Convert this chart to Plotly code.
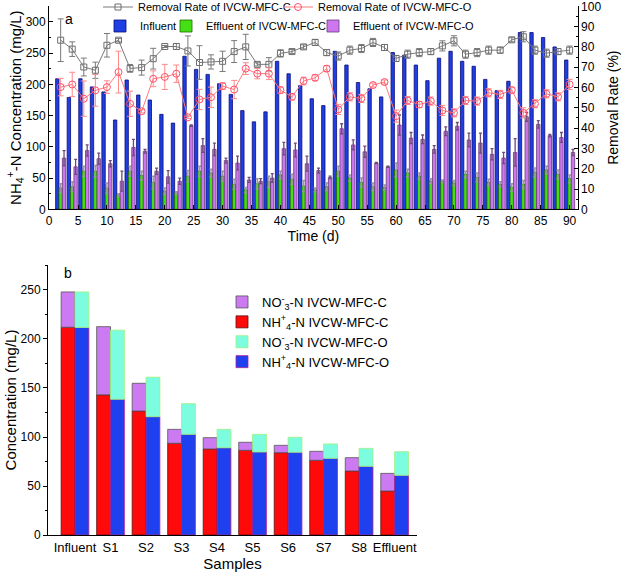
import plotly.graph_objects as go

# ---------------- Panel a data ----------------
days = [2, 4, 6, 8, 10, 12, 14, 16, 18, 20, 22, 24, 26, 28, 30, 32, 34, 36, 38, 40, 42, 44, 46,
        48, 50, 52, 54, 56, 58, 60, 62, 64, 66, 68, 70, 72, 74, 76, 78, 80, 82, 84, 86, 88, 90]
influent = [209, 179, 209, 196, 188, 143, 207, 183, 175, 152, 138, 245, 224, 216, 201, 184, 158, 140, 156,
            237, 217, 198, 177, 166, 253, 231, 203, 193, 180, 251, 247, 231, 206, 242, 253, 237, 229, 208,
            190, 205, 283, 283, 275, 260, 239]
eff_c = [34, 36, 61, 61, 34, 23, 61, 54, 43, 29, 26, 53, 61, 58, 53, 40, 31, 41, 44, 55, 48, 37, 31,
         36, 61, 50, 43, 36, 35, 63, 58, 53, 45, 45, 42, 56, 51, 43, 40, 35, 40, 59, 63, 56, 49]
eff_c_err = [7, 8, 8, 9, 8, 2, 8, 7, 10, 5, 2, 9, 8, 6, 8, 8, 4, 8, 9, 6, 8, 9, 3,
             6, 8, 5, 7, 6, 4, 11, 6, 5, 4, 2, 4, 5, 7, 5, 4, 6, 6, 7, 6, 7, 6]
eff_o = [82, 68, 94, 81, 73, 45, 99, 93, 61, 52, 45, 134, 102, 96, 78, 74, 47, 45, 50, 97, 95, 73, 62,
         51, 129, 103, 92, 74, 68, 135, 114, 112, 96, 125, 133, 111, 106, 88, 82, 91, 148, 136, 118, 115, 91]
eff_o_err = [12, 12, 9, 9, 5, 16, 13, 3, 5, 10, 5, 1, 11, 10, 4, 11, 4, 4, 7, 10, 11, 12, 4,
             2, 8, 8, 9, 1, 1, 16, 9, 7, 6, 7, 6, 11, 16, 9, 9, 22, 7, 6, 2, 8, 5]
rr_c = [83.3, 78.9, 70.1, 68.5, 80.8, 83.3, 69.4, 69.8, 74.2, 80.2, 80.2, 78.0, 72.3, 72.6, 72.9, 77.7,
        80.0, 71.4, 71.4, 76.8, 77.7, 80.0, 82.2, 77.2, 75.5, 78.4, 79.2, 82.2, 79.7, 74.3, 76.4, 77.2,
        77.7, 80.5, 83.0, 76.4, 77.2, 78.4, 78.4, 83.5, 85.0, 78.4, 76.9, 77.7, 78.4]
rr_c_err = [10.5, 3.6, 4.4, 4.0, 5.8, 0.8, 1.9, 3.7, 5.1, 0.5, 1.5, 7.4, 8.3, 3.5, 5.0, 5.4, 6.2, 0.8,
            3.3, 1.8, 1.0, 1.0, 1.5, 1.5, 2.0, 2.0, 2.0, 2.0, 1.5, 1.5, 2.0, 2.0, 1.5, 2.5, 2.5, 2.0,
            2.0, 2.0, 1.5, 1.0, 2.5, 2.0, 2.0, 1.5, 2.0]
rr_o = [60.2, 61.5, 54.5, 58.6, 60.2, 67.6, 52.0, 48.3, 64.3, 65.2, 66.8, 45.3, 54.1, 55.2, 60.7, 59.0,
        69.3, 66.8, 66.8, 58.7, 55.4, 63.2, 64.8, 69.3, 49.2, 55.4, 54.6, 61.2, 62.7, 45.9, 53.6, 51.6,
        53.3, 48.7, 47.5, 53.6, 53.3, 57.4, 56.6, 58.7, 47.5, 52.0, 56.9, 55.4, 61.5]
rr_o_err = [4.3, 6.0, 8.7, 7.8, 3.1, 10.3, 6.2, 0.8, 3.9, 6.2, 4.3, 0.6, 5.0, 5.0, 1.6, 4.5, 2.9, 2.5,
            2.9, 1.6, 1.5, 1.9, 1.5, 1.5, 2.5, 2.0, 2.0, 1.0, 1.0, 3.0, 2.0, 1.5, 2.0, 2.5, 2.0, 2.0,
            2.0, 2.0, 2.0, 1.5, 2.5, 2.0, 2.0, 2.0, 2.5]
time_ticks = [0, 5, 10, 15, 20, 25, 30, 35, 40, 45, 50, 55, 60, 65, 70, 75, 80, 85, 90]
rate_ticks = [0, 10, 20, 30, 40, 50, 60, 70, 80, 90, 100]

# ---------------- Panel b data ----------------
samples = ["Influent", "S1", "S2", "S3", "S4", "S5", "S6", "S7", "S8", "Effluent"]
nh4_c = [212.0, 143.0, 126.5, 93.6, 87.8, 86.4, 84.0, 76.2, 65.3, 44.9]
no3_c = [36.0, 69.6, 28.3, 14.2, 11.5, 8.2, 7.5, 9.2, 13.6, 18.0]
nh4_o = [211.7, 138.5, 120.7, 102.7, 89.0, 84.7, 84.4, 78.2, 70.1, 60.9]
no3_o = [36.3, 70.5, 40.3, 31.3, 18.8, 18.0, 15.3, 14.7, 18.3, 24.1]

FONT = "Liberation Sans, Arial, sans-serif"
W, H = 621, 576

def px(x):
    return x / W

def py(y):
    return 1 - y / H

fig = go.Figure()

# Panel a bars
fig.add_trace(go.Bar(x=days, y=influent, name="Influent", legend="legend3",
                     marker=dict(color="#1f3fe2", line=dict(color="#0b0b7a", width=0.8)),
                     xaxis="x", yaxis="y"))
fig.add_trace(go.Bar(x=days, y=eff_c, name="Effluent of IVCW-MFC-C", legend="legend4",
                     marker=dict(color="#45e014", line=dict(color="#1f6a00", width=0.8)),
                     error_y=dict(type="data", array=eff_c_err, symmetric=True, color="#9a9a9a",
                                  thickness=1.5, width=1.5),
                     xaxis="x", yaxis="y"))
fig.add_trace(go.Bar(x=days, y=eff_o, name="Effluent of IVCW-MFC-O", legend="legend5",
                     marker=dict(color="#cc77ee", line=dict(color="#6a3a7a", width=0.8)),
                     error_y=dict(type="data", array=eff_o_err, symmetric=True, color="#6e4a78",
                                  thickness=1.3, width=1.5),
                     xaxis="x", yaxis="y"))

# Panel a removal-rate lines
fig.add_trace(go.Scatter(x=days, y=rr_c, name="Removal Rate of IVCW-MFC-C", legend="legend",
                         mode="lines+markers",
                         line=dict(color="#7a7a7a", width=1),
                         marker=dict(symbol="square-open", size=6, color="#6e6e6e", line=dict(width=1)),
                         error_y=dict(type="data", array=rr_c_err, color="#7a7a7a", thickness=1, width=3),
                         xaxis="x", yaxis="y2"))
fig.add_trace(go.Scatter(x=days, y=rr_o, name="Removal Rate of IVCW-MFC-O", legend="legend2",
                         mode="lines+markers",
                         line=dict(color="#ff7a7a", width=1),
                         marker=dict(symbol="circle-open", size=7, color="#ff4f6f", line=dict(width=1)),
                         error_y=dict(type="data", array=rr_o_err, color="#ff8a8a", thickness=1, width=3),
                         xaxis="x", yaxis="y2"))

# Panel b stacked bars (manual side-by-side placement)
bw = 0.39
fig.add_trace(go.Bar(x=samples, y=nh4_c, name="NH<sup>+</sup><sub>4</sub>-N IVCW-MFC-C",
                     legend="legend6", legendrank=2, offset=-bw, width=bw,
                     marker=dict(color="#ff0a0a", line=dict(color="#5a1010", width=0.8)),
                     xaxis="x2", yaxis="y3"))
fig.add_trace(go.Bar(x=samples, y=no3_c, base=nh4_c, name="NO<sup>-</sup><sub>3</sub>-N IVCW-MFC-C",
                     legend="legend6", legendrank=1, offset=-bw, width=bw,
                     marker=dict(color="#cc7af2", line=dict(color="#555555", width=0.8)),
                     xaxis="x2", yaxis="y3"))
fig.add_trace(go.Bar(x=samples, y=nh4_o, name="NH<sup>+</sup><sub>4</sub>-N IVCW-MFC-O",
                     legend="legend6", legendrank=4, offset=0, width=bw,
                     marker=dict(color="#1e40ee", line=dict(color="#b0209a", width=0.8)),
                     xaxis="x2", yaxis="y3"))
fig.add_trace(go.Bar(x=samples, y=no3_o, base=nh4_o, name="NO<sup>-</sup><sub>3</sub>-N IVCW-MFC-O",
                     legend="legend6", legendrank=3, offset=0, width=bw,
                     marker=dict(color="#7dfde0", line=dict(color="#9cf07a", width=0.8)),
                     xaxis="x2", yaxis="y3"))

axis_common = dict(showline=True, linecolor="black", linewidth=1, showgrid=False, zeroline=False,
                   tickfont=dict(family=FONT, size=12, color="black"), ticklen=4, tickcolor="black",
                   automargin=False, ticklabeloverflow="allow")

a_top, a_bot = 6, 209.3
b_top, b_bot = 265, 535

legend_common = dict(font=dict(family=FONT, size=11, color="black"), bgcolor="rgba(0,0,0,0)",
                     orientation="h", xanchor="left", yanchor="middle", borderwidth=0,
                     itemclick=False, visible=True)

fig.update_layout(
    width=W, height=H,
    margin=dict(l=0, r=0, t=0, b=0, autoexpand=False),
    showlegend=True,
    paper_bgcolor="white", plot_bgcolor="rgba(0,0,0,0)",
    font=dict(family=FONT, color="black"),
    barmode="group", bargap=0.125, bargroupgap=0,
    xaxis=dict(domain=[px(49.1), px(577.7)], anchor="y", range=[0, 91.4],
               tickvals=time_ticks, ticks="inside",
               title=dict(text="Time (d)", font=dict(family=FONT, size=14), standoff=0),
               **axis_common),
    yaxis=dict(domain=[py(a_bot), py(a_top)], anchor="x", range=[0, 325.5], dtick=50, ticks="inside",
               minor=dict(dtick=25, ticks="inside", ticklen=2, tickcolor="black"),
               title=dict(text="NH<sub>4</sub><sup>+</sup>-N Concentration (mg/L)",
                          font=dict(family=FONT, size=15), standoff=0),
               **axis_common),
    yaxis2=dict(overlaying="y", side="right", anchor="x", range=[0, 100.15], tickvals=rate_ticks,
                ticks="inside",
                minor=dict(dtick=5, ticks="inside", ticklen=2, tickcolor="black"),
                title=dict(text="Removal Rate (%)", font=dict(family=FONT, size=14), standoff=7),
                **axis_common),
    xaxis2=dict(domain=[px(48), px(417)], anchor="y3", type="category", range=[-0.76, 9.63],
                ticks="", tickfont=dict(family=FONT, size=13, color="black"),
                title=dict(text="Samples", font=dict(family=FONT, size=15), standoff=2),
                showline=True, linecolor="black", linewidth=1, showgrid=False, zeroline=False,
                automargin=False),
    yaxis3=dict(domain=[py(b_bot), py(b_top)], anchor="x2", range=[0, 275.5], dtick=50, ticks="outside",
                minor=dict(dtick=25, ticks="outside", ticklen=2, tickcolor="black"),
                title=dict(text="Concentration (mg/L)", font=dict(family=FONT, size=15), standoff=0),
                **axis_common),
    legend=dict(x=px(98), y=py(7), **legend_common),
    legend2=dict(x=px(278), y=py(7), **legend_common),
    legend3=dict(x=px(100), y=py(26), **legend_common),
    legend4=dict(x=px(166), y=py(26), **legend_common),
    legend5=dict(x=px(313), y=py(26), **legend_common),
    legend6=dict(x=px(222), y=py(287), xanchor="left", yanchor="top", orientation="v",
                 font=dict(family=FONT, size=13, color="black"), bgcolor="rgba(0,0,0,0)",
                 traceorder="normal", itemclick=False),
    annotations=[
        dict(text="a", x=px(63), y=py(9), xref="paper", yref="paper", showarrow=False,
             font=dict(family=FONT, size=14, color="black")),
        dict(text="b", x=px(62), y=py(273), xref="paper", yref="paper", showarrow=False,
             font=dict(family=FONT, size=14, color="black")),
    ],
)

fig.write_html("out.html", config={"displayModeBar": False},
               post_script="document.body.style.margin='0';document.body.style.padding='0';")
